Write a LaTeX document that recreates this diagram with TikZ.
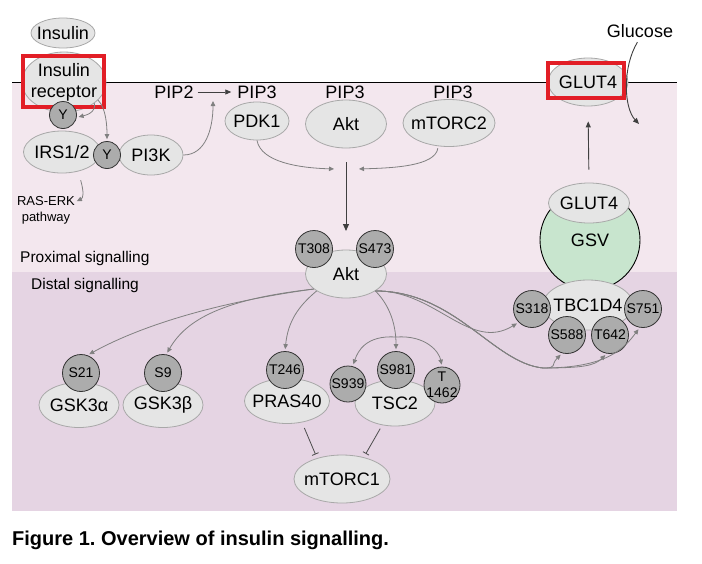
\documentclass[tikz,border=0pt]{standalone}
\usepackage{fontspec}
\setmainfont{Liberation Sans}
\usepackage{tikz}
\usetikzlibrary{shapes.geometric,arrows.meta}
\frenchspacing

\definecolor{proxbg}{RGB}{243,231,238}
\definecolor{distbg}{RGB}{229,212,227}
\definecolor{protfill}{RGB}{229,229,229}
\definecolor{protline}{RGB}{168,168,168}
\definecolor{sitefill}{RGB}{172,172,172}
\definecolor{arrowgray}{RGB}{128,128,128}
\definecolor{gsvgreen}{RGB}{200,229,206}
\definecolor{hired}{RGB}{226,30,38}

\tikzset{
  prot/.style={ellipse, draw=protline, fill=protfill, line width=0.8pt,
    inner xsep=-12pt, inner ysep=-8pt, align=center,
    font=\fontsize{18}{21}\selectfont},
  site/.style={circle, draw=black!80, fill=sitefill, line width=0.8pt,
    minimum size=37pt, inner sep=-5pt, align=center,
    font=\fontsize{14}{16}\selectfont},
  ysite/.style={site, minimum size=27pt, font=\fontsize{14}{15}\selectfont},
  lbl/.style={inner sep=0pt, align=center, font=\fontsize{18}{21}\selectfont},
  region/.style={inner sep=0pt, anchor=west, font=\fontsize{15.5}{18}\selectfont},
  sig/.style={draw=arrowgray, line width=0.8pt,
    -{Triangle[length=5pt,width=4.5pt]}, shorten >=2pt},
  darkarrow/.style={draw=black!75, line width=0.9pt,
    -{Triangle[length=6pt,width=5pt]}},
  inhib/.style={draw=black!70, line width=0.8pt, -{Bar[width=7pt]}},
  hilite/.style={draw=hired, line width=3.5pt, inner sep=0pt},
}

\begin{document}
\begin{tikzpicture}[x=1pt,y=-1pt]
        \useasboundingbox (0,0) rectangle (702,563);
        % cell background and membrane
        \fill[proxbg] (12,82) rectangle (677,272);
        \fill[distbg] (12,272) rectangle (677,511);
        \draw[line width=1pt] (12,82) -- (677,82);
        \node[region] (prox) at (20,258) {Proximal signalling};
        \node[region] (dist) at (31,285) {Distal signalling};

        % receptor
        \node[prot, minimum width=64pt, minimum height=30pt] (ins) at (63,33) {Insulin};
        \node[prot, minimum width=84pt, minimum height=60pt] (insrec) at (64,82) {Insulin\\receptor};
        \node[hilite, minimum width=81pt, minimum height=51pt] (recbox) at (63.5,81.5) {};
        \node[ysite] (yrec) at (63,115) {Y};
        \node[prot, minimum width=77pt, minimum height=42pt] (irs) at (62,152) {IRS1/2};
        \node[prot, minimum width=64pt, minimum height=40pt] (pi3k) at (151,155) {PI3K};
        \node[ysite] (yirs) at (107,155) {Y};
        \node[lbl, font=\fontsize{13}{16}\selectfont] (raserk) at (46,210) {RAS-ERK\\pathway};

        % PIP3 level
        \node[lbl] (pip2) at (174,92) {PIP2};
        \node[lbl] (pip3a) at (257,92) {PIP3};
        \node[lbl] (pip3b) at (345,92) {PIP3};
        \node[lbl] (pip3c) at (453,92) {PIP3};
        \node[prot, minimum width=64pt, minimum height=38pt] (pdk1) at (257,121) {PDK1};
        \node[prot, minimum width=81pt, minimum height=48pt] (aktm) at (346,124) {Akt};
        \node[prot, minimum width=92pt, minimum height=47pt] (mtorc2) at (449,123) {mTORC2};
        \coordinate (pipjoin) at (213,99);
        \coordinate (aktl) at (336,169);
        \coordinate (aktr) at (357,169);
        \coordinate (akttop) at (346,162);
        \coordinate (aktdown) at (346,231);

        % active Akt
        \node[prot, minimum width=81pt, minimum height=48pt] (akt2) at (346,274) {Akt};
        \node[site] (t308) at (314,249) {T308};
        \node[site] (s473) at (375,249) {S473};

        % GLUT4 side
        \node[lbl] (glucose) at (640,31) {Glucose};
        \node[prot, minimum width=80pt, minimum height=48pt] (glut4m) at (588,82) {GLUT4};
        \node[hilite, minimum width=76pt, minimum height=35pt] (glutbox) at (586,80.5) {};
        \node[circle, draw=black, fill=gsvgreen, line width=0.9pt, minimum size=100pt,
          inner sep=0pt, font=\fontsize{18}{21}\selectfont] (gsv) at (590,240) {\raisebox{-4pt}{GSV}};
        \node[prot, minimum width=81pt, minimum height=40pt] (glutv) at (589,203) {GLUT4};
        \node[prot, minimum width=90pt, minimum height=50pt] (tbc) at (588,305) {TBC1D4};
        \node[site] (s318) at (532,309) {S318};
        \node[site] (s751) at (643,309) {S751};
        \node[site] (s588) at (567,335) {S588};
        \node[site] (t642) at (610,335) {T642};
        \coordinate (glcin) at (639,124);
        \coordinate (tbclow) at (543,368);

        % Akt substrates
        \node[prot, minimum width=80pt, minimum height=45pt] (gsk3a) at (79,405) {GSK3α};
        \node[site] (s21) at (81,373) {S21};
        \node[prot, minimum width=80pt, minimum height=45pt] (gsk3b) at (163,405) {GSK3β};
        \node[site] (s9) at (163,373) {S9};
        \node[prot, minimum width=85pt, minimum height=45pt] (pras40) at (287,401) {PRAS40};
        \node[site] (t246) at (285,370) {T246};
        \node[prot, minimum width=80pt, minimum height=46pt] (tsc2) at (395,403) {TSC2};
        \node[site, minimum size=36pt] (s939) at (348,384) {S939};
        \node[site] (s981) at (396,370) {S981};
        \node[site, minimum size=36pt] (t1462) at (442,385) {T\\1462};
        \node[prot, minimum width=96pt, minimum height=48pt] (mtorc1) at (342,479) {mTORC1};
        \coordinate (tscsplit) at (396,337);

        % proximal connectors
        \draw[sig] (insrec.-35) .. controls +(2,10) and +(8,-2) .. (yrec.-10);
        \draw[sig] (insrec.-28) .. controls +(8,8) and +(0,-15) .. (yirs.north);
        \draw[sig, shorten <=9pt] (irs.-50) .. controls +(6,22) and +(8,-4) .. ([yshift=8pt]raserk.east);
        \draw[sig] (pi3k.east) .. controls +(22,0) and +(0,30) .. (pipjoin);
        \draw[darkarrow, line width=0.8pt, shorten <=4pt, shorten >=6pt] (pip2.east) -- (pip3a.west);
        \draw[sig] (pdk1.south) .. controls +(4,22) and +(-36,-1) .. (aktl);
        \draw[sig, shorten <=2pt] (mtorc2.-115) .. controls +(-3,20) and +(36,-1) .. (aktr);
        \draw[darkarrow, line width=1pt, -{Triangle[length=7pt,width=6pt]}] (akttop) -- (aktdown);
        \draw[darkarrow, shorten <=5pt] (glucose.south) .. controls (622,68) and (624,108) .. (glcin);
        \draw[darkarrow, shorten <=13pt, shorten >=15pt] (glutv.north) -- (glut4m.south);

        % distal connectors
        \draw[sig] (akt2.-155) .. controls +(-110,15) and +(45,-25) .. (s21.70);
        \draw[sig] (akt2.-155) .. controls +(-90,10) and +(20,-35) .. (s9.80);
        \draw[sig] (akt2.-150) .. controls +(-18,15) and +(3,-30) .. (t246.north);
        \draw[sig] (akt2.-30) .. controls +(12,12) and +(0,-30) .. (s981.north);
        \draw[sig] (tscsplit) .. controls +(-30,-2) and +(5,-15) .. (s939.75);
        \draw[sig] (tscsplit) .. controls +(30,-2) and +(-3,-15) .. (t1462.north);
        \draw[sig] (akt2.-30) .. controls +(60,-1) and +(-49,30) .. (s318.-135);
        \draw[sig] (akt2.-30) .. controls +(80,0) and +(-50,-5) .. (tbclow)
          .. controls +(15,0) and +(-12,12) .. (s588.-105);
        \draw[sig] (akt2.-30) .. controls +(80,0) and +(-50,-5) .. (tbclow)
          .. controls +(40,0) and +(-12,12) .. (t642.-100);
        \draw[sig] (akt2.-30) .. controls +(80,0) and +(-50,-5) .. (tbclow)
          .. controls +(65,0) and +(-15,20) .. (s751.-100);
        \draw[inhib, shorten <=6pt, shorten >=4pt] (pras40.-55) -- (mtorc1.140);
        \draw[inhib, shorten <=4pt, shorten >=4pt] (tsc2.-120) -- (mtorc1.45);

        \node[inner sep=0pt, anchor=west, font=\bfseries\fontsize{20}{24}\selectfont] (caption) at (12,540)
          {Figure 1. Overview of insulin signalling.};
\end{tikzpicture}
\end{document}
